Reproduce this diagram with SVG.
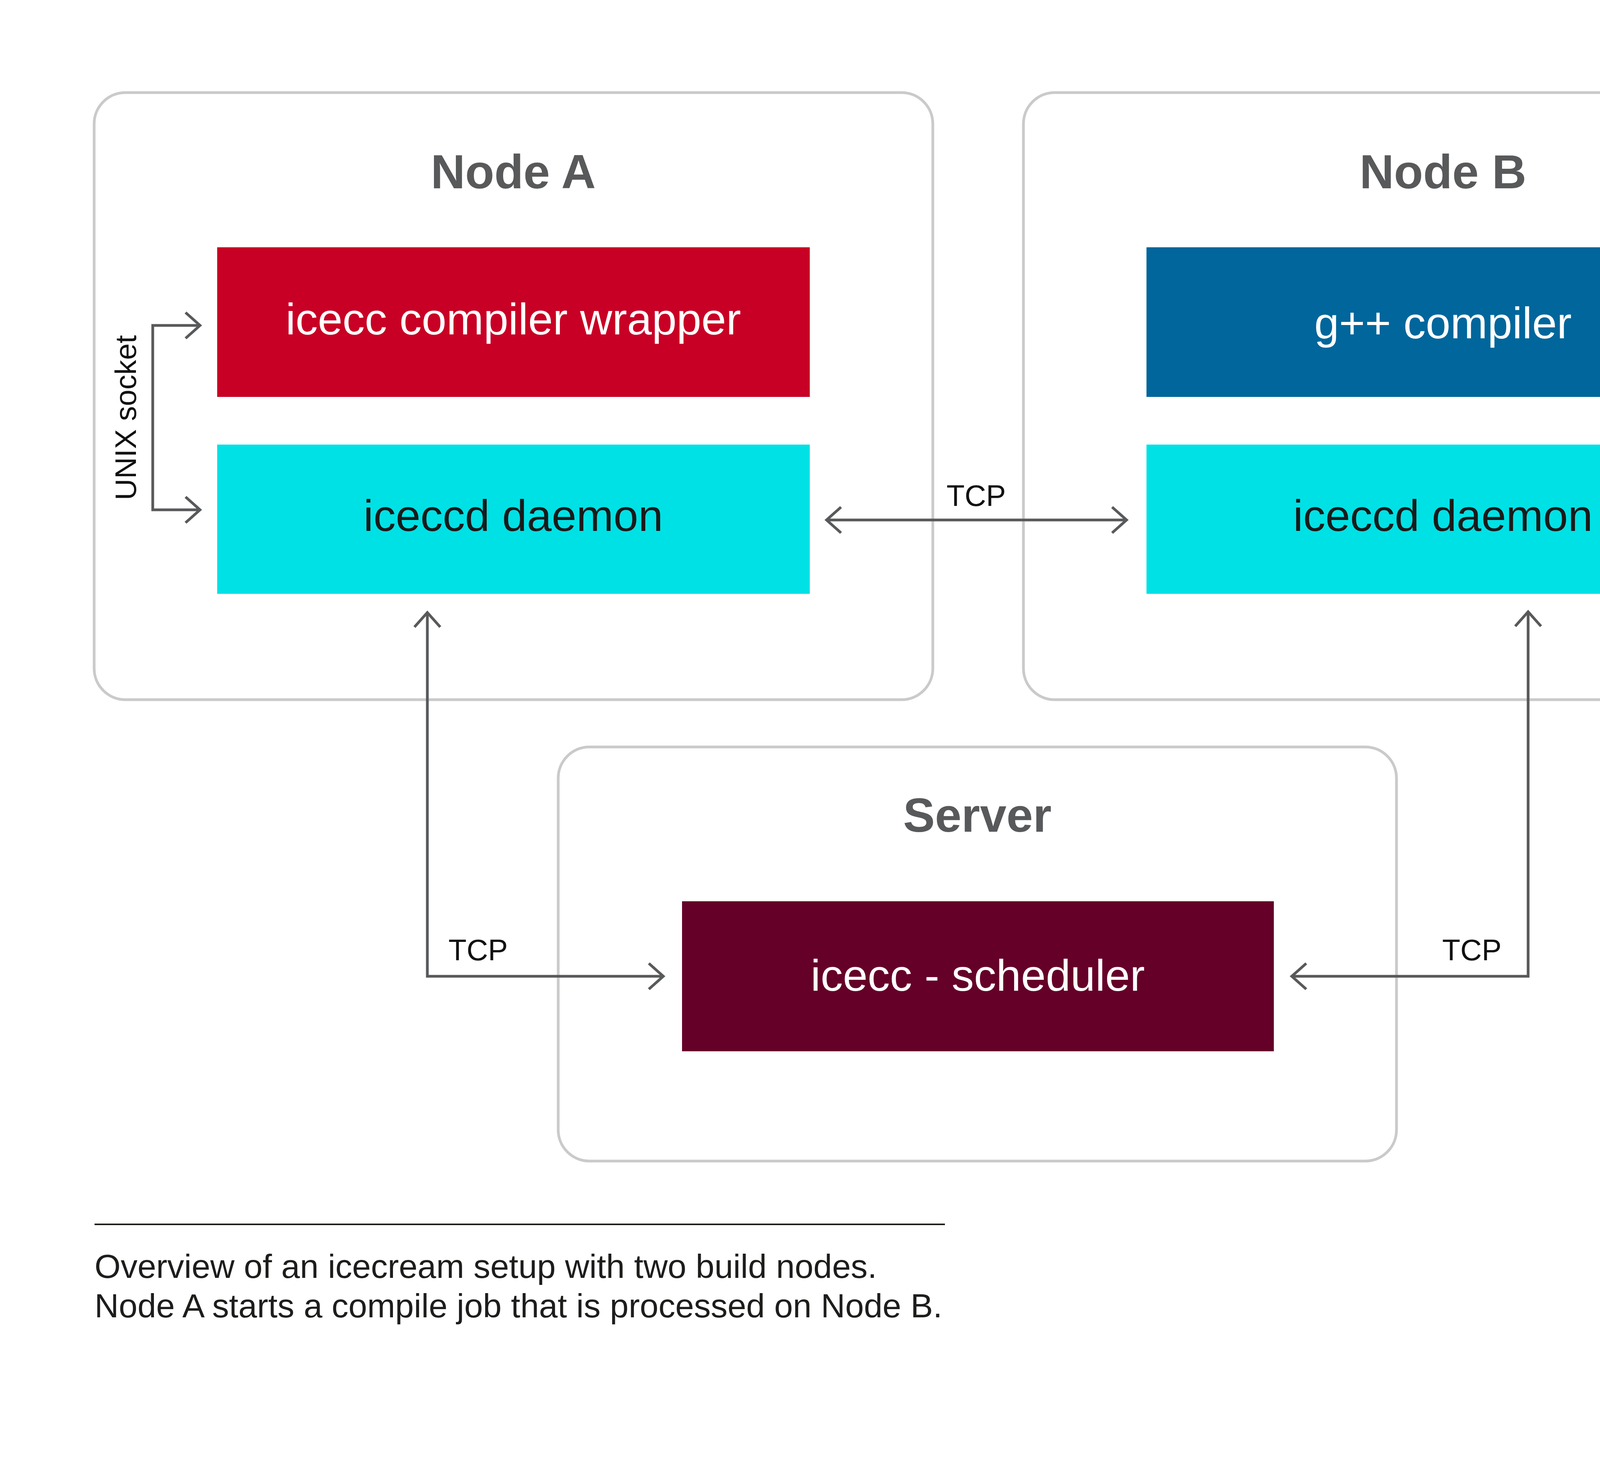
<svg xmlns="http://www.w3.org/2000/svg" width="5000" height="3750" viewBox="0 0 5000 3750">
<style>
.frame{fill:#ffffff;stroke:#cacaca;stroke-width:7}
.title{font-family:"Liberation Sans",Arial,sans-serif;font-weight:bold;font-size:122px;fill:#58595b;text-anchor:middle}
.box-text{font-family:"Liberation Sans",Arial,sans-serif;font-size:114px;text-anchor:middle}
.white{fill:#ffffff}
.dark{fill:#1a1a1a}
.label{font-family:"Liberation Sans",Arial,sans-serif;font-size:76px;fill:#111111}
.conn{fill:none;stroke:#58595b;stroke-width:7;stroke-linejoin:miter}
.caption{font-family:"Liberation Sans",Arial,sans-serif;font-size:86px;fill:#1d1d1b}
</style>
<defs>
<marker id="arrow" markerUnits="userSpaceOnUse" markerWidth="80" markerHeight="90" viewBox="-55 -45 70 90" refX="0" refY="0" orient="auto-start-reverse">
<path d="M-37,-33 L0,0 L-37,33" fill="none" stroke="#58595b" stroke-width="7"/>
</marker>
</defs>
<rect width="5000" height="3750" fill="#ffffff"/>

<g id="nodeA">
<rect class="frame" x="241" y="237" width="2147" height="1554" rx="80" ry="80"/>
<text class="title" x="1314" y="482">Node A</text>
</g>
<g id="nodeB">
<rect class="frame" x="2620" y="237" width="2147" height="1554" rx="80" ry="80"/>
<text class="title" x="3694" y="482">Node B</text>
</g>
<g id="server">
<rect class="frame" x="1429" y="1912" width="2146" height="1060" rx="80" ry="80"/>
<text class="title" x="2502" y="2129">Server</text>
</g>

<g id="icecc-wrapper">
<rect x="556" y="633" width="1517" height="383" fill="#c80025"/>
<text class="box-text white" x="1314" y="856">icecc compiler wrapper</text>
</g>
<g id="iceccd-a">
<rect x="556" y="1138" width="1517" height="382" fill="#00e1e5"/>
<text class="box-text dark" x="1314" y="1359">iceccd daemon</text>
</g>
<g id="gpp-compiler">
<rect x="2935" y="633" width="1517" height="383" fill="#00669b"/>
<text class="box-text white" x="3694" y="866">g++ compiler</text>
</g>
<g id="iceccd-b">
<rect x="2935" y="1138" width="1517" height="382" fill="#00e1e5"/>
<text class="box-text dark" x="3694" y="1359">iceccd daemon</text>
</g>
<g id="scheduler">
<rect x="1746" y="2307" width="1515" height="384" fill="#650028"/>
<text class="box-text white" x="2503" y="2536">icecc - scheduler</text>
</g>

<g id="connectors">
<path class="conn" d="M512,833 H391 V1305 H512" marker-start="url(#arrow)" marker-end="url(#arrow)"/>
<path class="conn" d="M4495,1305 H4617 V831 H4500" marker-end="url(#arrow)"/>
<path class="conn" d="M2116,1331 H2884" marker-start="url(#arrow)" marker-end="url(#arrow)"/>
<path class="conn" d="M1094,1568 V2499 H1698" marker-start="url(#arrow)" marker-end="url(#arrow)"/>
<path class="conn" d="M3912,1566 V2499 H3307" marker-start="url(#arrow)" marker-end="url(#arrow)"/>
<text class="label" transform="translate(348,1069) rotate(-90)" text-anchor="middle">UNIX socket</text>
<text class="label" transform="translate(4705,1069) rotate(-90)" text-anchor="middle">Process invocation</text>
<text class="label" x="2499" y="1295" text-anchor="middle">TCP</text>
<text class="label" x="1148" y="2458">TCP</text>
<text class="label" x="3844" y="2458" text-anchor="end">TCP</text>
</g>

<g id="caption">
<line x1="242" y1="3134" x2="2419" y2="3134" stroke="#1d1d1b" stroke-width="4"/>
<text class="caption" x="242" y="3271">Overview of an icecream setup with two build nodes.</text>
<text class="caption" x="242" y="3372">Node A starts a compile job that is processed on Node B.</text>
</g>
</svg>
